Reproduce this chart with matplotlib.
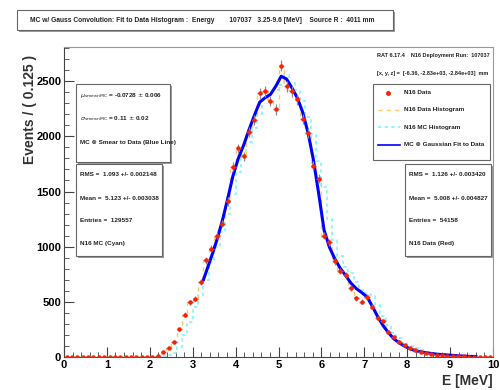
import numpy as np
import matplotlib
matplotlib.use("Agg")
import matplotlib.pyplot as plt
from matplotlib.patches import Rectangle
from matplotlib.lines import Line2D
from matplotlib.ticker import MultipleLocator

plt.rcParams['font.family'] = ['Liberation Sans', 'DejaVu Sans']

# binning: 80 bins of 0.125 MeV from 0 to 10
bin_edges = np.arange(0, 10.0001, 0.125)
bin_centers = bin_edges[:-1] + 0.0625

# N16 data counts per bin (red points / orange histogram)
data_counts = [
    0, 0, 0, 0, 0, 0, 0, 0, 0, 0, 0, 0, 0, 0, 1, 2,
    4, 10, 45, 85, 135, 250, 385, 495, 530, 680, 875, 980, 1100, 1210, 1410, 1725,
    1890, 1820, 2040, 2150, 2390, 2410, 2320, 2245, 2640, 2455, 2410, 2335, 2155, 2030, 1735, 1615,
    1100, 1040, 866, 780, 740, 624, 533, 503, 548, 457, 351, 330, 230, 185, 139, 109,
    79, 62, 48, 38, 29, 22, 17, 13, 10, 8, 6, 4, 3, 2, 1, 1,
]

# N16 MC counts per bin, normalised to data (cyan histogram)
mc_counts = [
    0, 0, 0, 0, 0, 0, 0, 0, 0, 0, 0, 0, 0, 0, 0, 0,
    0, 2, 5, 15, 40, 90, 200, 320, 450, 560, 700, 860, 1000, 1130, 1300, 1480,
    1680, 1830, 1950, 2080, 2200, 2330, 2380, 2420, 2470, 2560, 2480, 2420, 2320, 2180, 2020, 1780,
    1540, 1250, 1060, 920, 820, 760, 680, 610, 580, 560, 470, 370, 290, 220, 170, 130,
    100, 78, 60, 48, 38, 30, 24, 19, 15, 12, 9, 7, 5, 4, 3, 2,
]

# MC convolved with gaussian, fit to data in 3.25-9.6 MeV (blue line)
fit_energy = [
    3.25, 3.3125, 3.4375, 3.5625, 3.6875, 3.8125, 3.9375, 4.0625, 4.1875, 4.3125,
    4.4375, 4.5625, 4.6875, 4.8125, 4.9375, 5.0625, 5.1875, 5.3125, 5.4375, 5.5625,
    5.6875, 5.8125, 5.9375, 6.0625, 6.1875, 6.3125, 6.4375, 6.5625, 6.6875, 6.8125,
    6.9375, 7.0625, 7.1875, 7.3125, 7.4375, 7.5625, 7.6875, 7.8125, 7.9375, 8.0625,
    8.1875, 8.3125, 8.4375, 8.5625, 8.6875, 8.8125, 8.9375, 9.0625, 9.1875, 9.3125,
    9.4375, 9.6,
]
fit_values = [
    700, 770, 910, 1060, 1230, 1430, 1640, 1800, 1920, 2060,
    2190, 2310, 2350, 2380, 2455, 2545, 2520, 2440, 2350, 2220,
    2035, 1790, 1480, 1150, 995, 890, 805, 740, 670, 620,
    585, 545, 460, 365, 285, 220, 165, 128, 98, 75,
    58, 47, 39, 32, 26, 22, 18, 15, 11, 8,
    6, 4,
]

W, H = 500, 390
fig = plt.figure(figsize=(5, 3.9), dpi=100)
ax = fig.add_axes([64 / W, 1 - 357 / H, (493 - 64) / W, (357 - 47) / H])


def fx(px):
    return px / W


def fy(py):
    return 1 - py / H


def pave(x0, y0, x1, y1, shadow=True):
    if shadow:
        fig.add_artist(Rectangle((fx(x0 + 2), fy(y1 + 2)), fx(x1 - x0), (y1 - y0) / H,
                                 transform=fig.transFigure, facecolor='#9a9a9a',
                                 edgecolor='none', zorder=5))
    fig.add_artist(Rectangle((fx(x0), fy(y1)), fx(x1 - x0), (y1 - y0) / H,
                             transform=fig.transFigure, facecolor='white',
                             edgecolor='#666666', lw=0.8, zorder=6))


def label(px, py, s, size=4.6, **kw):
    fig.text(fx(px), fy(py), s, fontsize=size, fontweight='bold', color='#222222',
             va='center', zorder=7, **kw)


# histograms
ax.stairs(mc_counts, bin_edges, color='#7ff5ff', linestyle=(0, (2, 2)), lw=1.2, zorder=2)
ax.stairs(data_counts, bin_edges, color='#ffc870', linestyle=(0, (3, 3)), lw=1.0, zorder=3)

# fit line
ax.plot(fit_energy, fit_values, color='#0000ff', lw=2.2, zorder=4)

# data points with errors
ax.errorbar(bin_centers, data_counts, yerr=np.sqrt(data_counts), xerr=0.0625,
            fmt='o', ms=2.2, color='#ff2000', ecolor='#8c8c8c', elinewidth=0.9,
            capsize=0, zorder=5)

ax.set_xlim(0, 10)
ax.set_ylim(0, 2810)
ax.xaxis.set_major_locator(MultipleLocator(1))
ax.xaxis.set_minor_locator(MultipleLocator(0.2))
ax.yaxis.set_major_locator(MultipleLocator(500))
ax.yaxis.set_minor_locator(MultipleLocator(100))
ax.tick_params(which='both', direction='in', top=False, right=False,
               labelsize=8, color='#444444', pad=2)
ax.tick_params(which='major', length=7)
ax.tick_params(which='minor', length=3.5)
for t in ax.get_xticklabels() + ax.get_yticklabels():
    t.set_fontweight('bold')
for side in ['left', 'bottom']:
    ax.spines[side].set_color('#444444')
for side in ['top', 'right']:
    ax.spines[side].set_color('#999999')

fig.text(fx(30), fy(55), 'Events / ( 0.125 )', rotation=90, fontsize=10,
         fontweight='bold', ha='center', va='top', color='#333333')
fig.text(fx(493), fy(381), 'E [MeV]', fontsize=10, fontweight='bold',
         ha='right', va='center', color='#333333')

# title pave
pave(17, 10, 393, 30)
label(30, 20, 'MC w/ Gauss Convolution: Fit to Data Histogram :  Energy'
      '        107037   3.25-9.6 [MeV]    Source R :  4011 mm', size=4.8)

# run info
label(377, 56, 'RAT 6.17.4    N16 Deployment Run:  107037', size=4.0)
label(377, 73, '[x, y, z] =  [-6.36, -2.83e+03, -2.84e+03]  mm', size=4.0)

# legend
pave(373, 84, 490, 160, shadow=False)
leg_rows = [93, 110, 127, 145]
fig.add_artist(Line2D([fx(388)], [fy(leg_rows[0])], marker='o', ms=2.5, color='#ff2000',
                      transform=fig.transFigure, zorder=7))
fig.add_artist(Line2D([fx(378), fx(400)], [fy(leg_rows[1])] * 2, color='#ffc870', lw=1,
                      ls=(0, (3, 3)), transform=fig.transFigure, zorder=7))
fig.add_artist(Line2D([fx(378), fx(400)], [fy(leg_rows[2])] * 2, color='#7ff5ff', lw=1.2,
                      ls=(0, (2, 2)), transform=fig.transFigure, zorder=7))
fig.add_artist(Line2D([fx(378), fx(400)], [fy(leg_rows[3])] * 2, color='#0000ff', lw=1.2,
                      transform=fig.transFigure, zorder=7))
legend_names = ['N16 Data', 'N16 Data Histogram', 'N16 MC Histogram',
                'MC \u2297 Gaussian Fit to Data']
for row, name in zip(leg_rows, legend_names):
    label(404, row, name)

# fit parameters
pave(76, 84, 170, 162)
label(80, 96, r'$\mu_{\rm smear/MC}$ = -0.0728 $\pm$ 0.006')
label(80, 119, r'$\sigma_{\rm smear/MC}$ = 0.11 $\pm$ 0.02')
label(80, 142, 'MC \u2297 Smear to Data (Blue Line)')

# MC stats
pave(76, 164, 162, 256)
label(80, 175, 'RMS =  1.093 +/- 0.002148')
label(80, 198, 'Mean =  5.123 +/- 0.003038')
label(80, 221, 'Entries =  129557')
label(80, 243, 'N16 MC (Cyan)')

# data stats
pave(405, 164, 491, 256)
label(409, 175, 'RMS =  1.126 +/- 0.003420')
label(409, 198, 'Mean =  5.008 +/- 0.004827')
label(409, 221, 'Entries =  54158')
label(409, 243, 'N16 Data (Red)')

fig.savefig('out.png', dpi=100)
